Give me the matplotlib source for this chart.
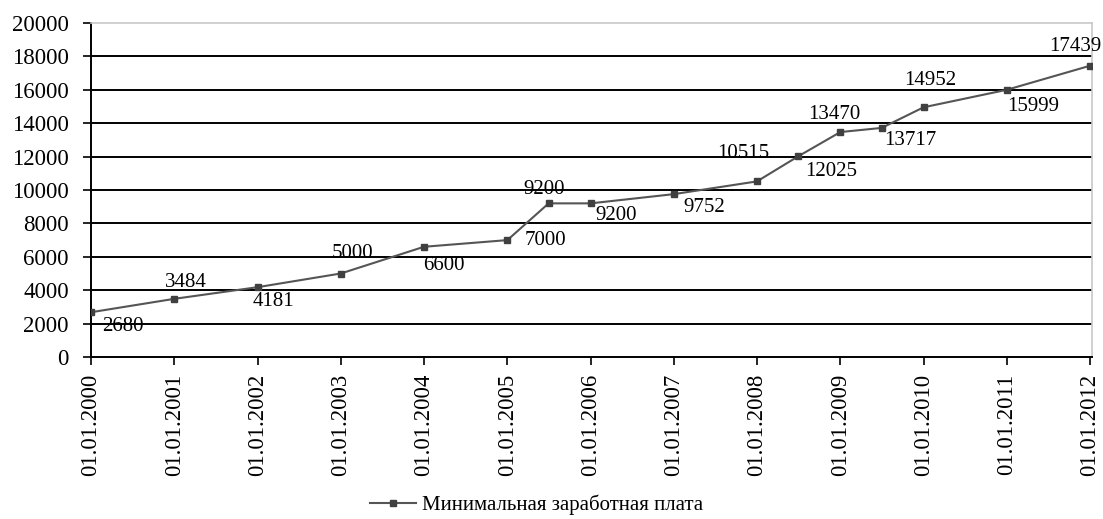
import datetime as dt
import matplotlib
matplotlib.use("Agg")
import matplotlib.pyplot as plt
import matplotlib.dates as mdates

dates = ["2000-01-01", "2001-01-01", "2002-01-01", "2003-01-01", "2004-01-01",
         "2005-01-01", "2005-07-01", "2006-01-01", "2007-01-01", "2008-01-01",
         "2008-07-01", "2009-01-01", "2009-07-01", "2010-01-01", "2011-01-01",
         "2012-01-01"]
wage = [2680, 3484, 4181, 5000, 6600, 7000, 9200, 9200, 9752, 10515,
        12025, 13470, 13717, 14952, 15999, 17439]
tick_years = list(range(2000, 2013))
series_name = "Минимальная заработная плата"

# label offsets in pixels (dx, dy), dy positive = up
label_offsets = [(32, -14), (11, 16), (16, -14), (12, 20), (20, -19), (38, 0),
                 (-5, 14), (26, -12), (30, -13), (-14, 28), (33, -15),
                 (-6, 18), (29, -13), (7, 27), (26, -17), (-15, 19)]

serif = "Liberation Serif"
x = [dt.datetime.strptime(d, "%Y-%m-%d") for d in dates]

fig = plt.figure(figsize=(11.03, 5.19), dpi=100)
ax = fig.add_axes([91 / 1103, 1 - 357 / 519, (1092 - 91) / 1103, (357 - 23) / 519])

ax.plot(x, wage, color="#555555", lw=1.5, marker="s", ms=5,
        mfc="#404040", mec="#404040", label=series_name, zorder=3)

for xi, v, (dx, dy) in zip(x, wage, label_offsets):
    ax.annotate(str(v), (xi, v), xytext=(dx, dy), textcoords="offset pixels",
                ha="center", va="center", fontsize=15, family=serif)

ax.set_ylim(0, 20000)
ax.set_yticks(range(0, 20001, 2000))
ax.set_xlim(dt.datetime(2000, 1, 1), dt.datetime(2012, 1, 10))
ax.set_xticks([dt.datetime(y, 1, 1) for y in tick_years])
ax.xaxis.set_major_formatter(mdates.DateFormatter("%d.%m.%Y"))

for val in range(2000, 20000, 2000):
    ax.axhline(val, color="black", lw=1.4, zorder=1)

for s in ["top", "right"]:
    ax.spines[s].set_color("#c8c8c8")
    ax.spines[s].set_linewidth(1.2)
for s in ["left", "bottom"]:
    ax.spines[s].set_color("black")
    ax.spines[s].set_linewidth(1.4)

ax.tick_params(axis="y", length=6, width=1.2, pad=10, labelsize=16.5)
ax.tick_params(axis="x", length=6, width=1.2, pad=6, labelsize=16.5, rotation=90)
for lab in ax.get_yticklabels() + ax.get_xticklabels():
    lab.set_family(serif)

fig.legend(loc="center", bbox_to_anchor=(537 / 1103, 1 - 505 / 519),
           frameon=False, prop={"family": serif, "size": 15},
           handlelength=2.2, handletextpad=0.3)

fig.savefig("out.png", dpi=100)
